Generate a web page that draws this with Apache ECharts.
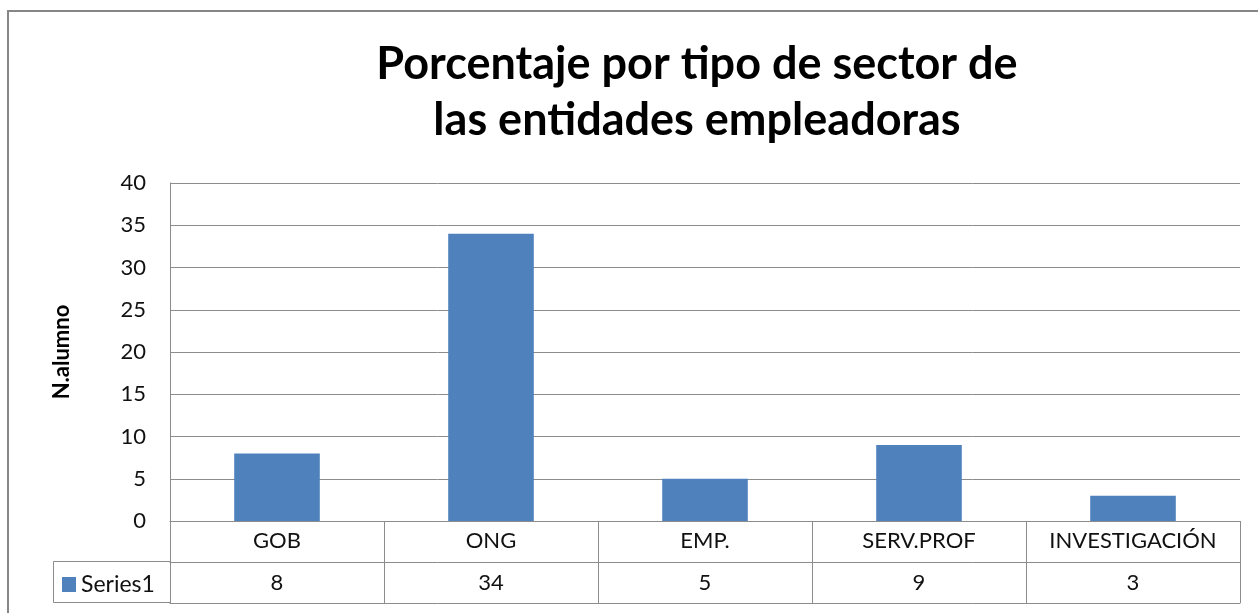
<!DOCTYPE html>
<html>
<head>
<meta charset="utf-8">
<title>Porcentaje por tipo de sector</title>
<script src="https://cdn.jsdelivr.net/npm/echarts@6/dist/echarts.min.js"></script>
<style>
  html, body { margin: 0; padding: 0; background: #fff; }
  #main { width: 1258px; height: 613px; }
</style>
</head>
<body>
<div id="main"></div>
<script>
// datos del grafico
var categorias = ['GOB', 'ONG', 'EMP.', 'SERV.PROF', 'INVESTIGACIÓN'];
var series1 = [8, 34, 5, 9, 3];
var nombreSerie = 'Series1';
var titulo = 'Porcentaje por tipo de sector de\nlas entidades empleadoras';
var nombreEje = 'N.alumno';

var gris = '#8c8c8c';
var fuente = 'Lato, "Open Sans", sans-serif';

var myChart = echarts.init(document.getElementById('main'));

myChart.setOption({
  animation: false,
  textStyle: { fontFamily: fuente },
  grid: { left: 170, right: 18, top: 183, bottom: 92 },
  legend: {
    data: [nombreSerie],
    left: 62,
    top: 573,
    padding: 0,
    icon: 'rect',
    itemWidth: 14,
    itemHeight: 15,
    selectedMode: false,
    textStyle: { fontSize: 23, color: '#111', lineHeight: 20, fontFamily: fuente }
  },
  xAxis: [
    {
      type: 'category',
      data: categorias,
      axisLine: { lineStyle: { color: gris } },
      axisTick: { show: true, alignWithLabel: false, interval: 0, length: 82, lineStyle: { color: gris } },
      axisLabel: { interval: 0, fontSize: 22, color: '#111', margin: 9, lineHeight: 22 }
    },
    {
      // fila de valores de la tabla
      type: 'category',
      data: categorias,
      position: 'bottom',
      offset: 41,
      axisLine: { lineStyle: { color: gris } },
      axisTick: { show: false },
      axisLabel: {
        interval: 0, fontSize: 22, color: '#111', margin: 10, lineHeight: 22,
        formatter: function (v, i) { return String(series1[i]); }
      }
    },
    {
      type: 'category',
      data: categorias,
      position: 'bottom',
      offset: 82,
      axisLine: { lineStyle: { color: gris } },
      axisTick: { show: false },
      axisLabel: { show: false }
    }
  ],
  yAxis: {
    type: 'value',
    min: 0,
    max: 40,
    interval: 5,
    name: nombreEje,
    nameLocation: 'middle',
    nameRotate: 90,
    nameGap: 97,
    nameTextStyle: { fontSize: 22, fontWeight: 'bold', color: '#000', fontFamily: fuente },
    axisLine: { show: true, lineStyle: { color: gris } },
    axisTick: { show: false },
    splitLine: { lineStyle: { color: gris } },
    axisLabel: { fontSize: 22, color: '#111', margin: 24 }
  },
  series: [
    {
      name: nombreSerie,
      type: 'bar',
      data: series1,
      barWidth: '40%',
      itemStyle: { color: '#4f81bd' }
    }
  ],
  graphic: [
    {
      type: 'rect',
      shape: { x: 8, y: 11, width: 1400, height: 800 },
      style: { fill: 'none', stroke: '#868686', lineWidth: 2 },
      silent: true
    },
    {
      type: 'text',
      x: 697,
      y: 36,
      style: {
        text: titulo,
        fontFamily: fuente,
        fontSize: 45,
        fontWeight: 'bold',
        fill: '#000',
        align: 'center',
        verticalAlign: 'top',
        lineHeight: 56
      }
    },
    { type: 'line', shape: { x1: 53.5, y1: 561.5, x2: 170, y2: 561.5 }, style: { stroke: gris, lineWidth: 1 } },
    { type: 'line', shape: { x1: 53.5, y1: 602.5, x2: 170, y2: 602.5 }, style: { stroke: gris, lineWidth: 1 } },
    { type: 'line', shape: { x1: 53.5, y1: 561.5, x2: 53.5, y2: 602.5 }, style: { stroke: gris, lineWidth: 1 } }
  ]
});
</script>
</body>
</html>
